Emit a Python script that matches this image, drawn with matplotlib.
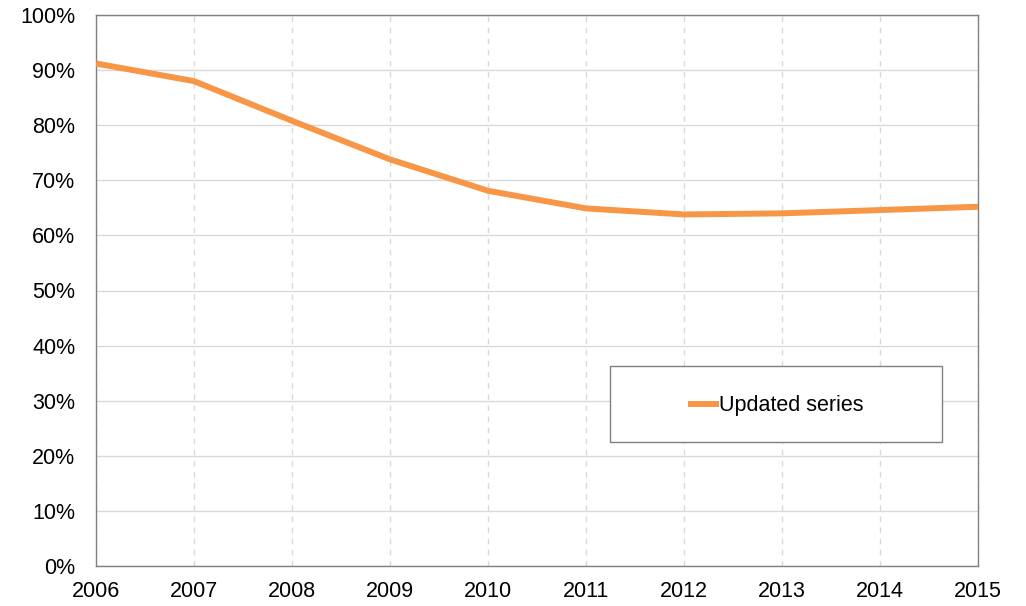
import matplotlib
matplotlib.use("Agg")
import matplotlib.pyplot as plt
from matplotlib.ticker import FuncFormatter, MultipleLocator
from matplotlib.patches import Rectangle

years = [2006, 2007, 2008, 2009, 2010, 2011, 2012, 2013, 2014, 2015]
values = [91.2, 88.0, 80.8, 73.8, 68.1, 64.9, 63.8, 64.0, 64.6, 65.2]
series_name = "Updated series"

plt.rcParams['font.family'] = ['Liberation Sans', 'DejaVu Sans']

fig = plt.figure(figsize=(10.26, 6.06), dpi=100)
ax = fig.add_axes([96/1026, 1-566/606, (978-96)/1026, (566-15)/606])

ax.plot(years, values, color='#F79646', linewidth=4.3, label=series_name,
        solid_capstyle='butt', solid_joinstyle='round', zorder=3)

ax.set_xlim(2006, 2015)
ax.set_ylim(0, 100)
ax.set_xticks(years)
ax.yaxis.set_major_locator(MultipleLocator(10))
ax.yaxis.set_major_formatter(FuncFormatter(lambda v, p: f"{int(round(v))}%"))

ax.grid(axis='y', color='#D9D9D9', linewidth=1.0, linestyle='-')
ax.grid(axis='x', color='#D9D9D9', linewidth=1.0, linestyle=(0, (4, 4)))
ax.set_axisbelow(True)

for s in ax.spines.values():
    s.set_color('#808080')
    s.set_linewidth(1.0)

ax.tick_params(axis='both', length=0, labelsize=15.5, colors='black')
ax.tick_params(axis='x', pad=11)
ax.tick_params(axis='y', pad=15)

# legend frame
x0, x1, y0, y1 = 610, 942, 366, 442
rect = Rectangle(((x0-96)/882, (566-y1)/551), (x1-x0)/882, (y1-y0)/551,
                 transform=ax.transAxes, facecolor='white', edgecolor='#808080',
                 linewidth=1.0, zorder=4)
ax.add_patch(rect)
leg = ax.legend(loc='center', bbox_to_anchor=(((x0+x1)/2-96)/882, (566-406)/551),
                frameon=False, fontsize=15.5, handlelength=1.45, handletextpad=0.0,
                borderaxespad=0, borderpad=0)
leg.set_zorder(5)

fig.savefig('out.png', dpi=100)
